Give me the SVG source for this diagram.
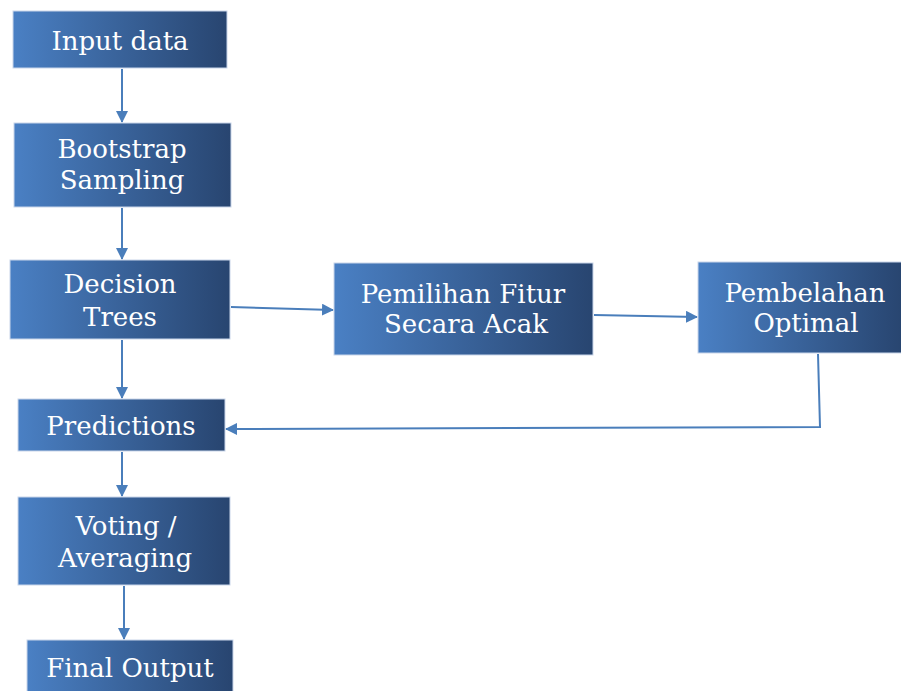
<svg xmlns="http://www.w3.org/2000/svg" width="901" height="691" viewBox="0 0 901 691">
<defs>
<linearGradient id="g" x1="0" y1="0" x2="1" y2="0">
<stop offset="0" stop-color="#4a80c4"/>
<stop offset="1" stop-color="#284570"/>
</linearGradient>
<marker id="ah" markerWidth="12" markerHeight="12" refX="11" refY="6" orient="auto" markerUnits="userSpaceOnUse">
<path d="M0,0 L12,6 L0,12 Z" fill="#4a7ebb"/>
</marker>
<style>
.box{fill:url(#g);stroke:#c9d6ea;stroke-width:1}
.t{font-family:"DejaVu Serif","Liberation Serif",serif;font-size:26px;fill:#fff;text-anchor:middle}
.c{fill:none;stroke:#4a7ebb;stroke-width:2}
</style>
</defs>
<rect width="901" height="691" fill="#fff"/>
<g id="connectors">
<line class="c" x1="122" y1="69" x2="122" y2="122" marker-end="url(#ah)"/>
<line class="c" x1="122" y1="208" x2="122" y2="259" marker-end="url(#ah)"/>
<line class="c" x1="122" y1="340" x2="122" y2="398" marker-end="url(#ah)"/>
<line class="c" x1="122" y1="452" x2="122" y2="496" marker-end="url(#ah)"/>
<line class="c" x1="124" y1="586" x2="124" y2="639" marker-end="url(#ah)"/>
<line class="c" x1="231" y1="307" x2="333" y2="310" marker-end="url(#ah)"/>
<line class="c" x1="594" y1="315" x2="697" y2="317" marker-end="url(#ah)"/>
<polyline class="c" points="818,354 820,427 226,429" marker-end="url(#ah)"/>
</g>
<g id="input"><rect class="box" x="13" y="11" width="214" height="57"/><text class="t" x="120" y="50">Input data</text></g>
<g id="bootstrap"><rect class="box" x="14" y="123" width="217" height="84"/><text class="t" x="122" y="158">Bootstrap</text><text class="t" x="122" y="189">Sampling</text></g>
<g id="decision"><rect class="box" x="10" y="260" width="220" height="79"/><text class="t" x="120" y="293">Decision</text><text class="t" x="120" y="326">Trees</text></g>
<g id="predictions"><rect class="box" x="18" y="399" width="207" height="52"/><text class="t" x="121" y="435">Predictions</text></g>
<g id="voting"><rect class="box" x="18" y="497" width="212" height="88"/><text class="t" x="126" y="535">Voting /</text><text class="t" x="125" y="567">Averaging</text></g>
<g id="final"><rect class="box" x="27" y="640" width="206" height="56"/><text class="t" x="130" y="677">Final Output</text></g>
<g id="pemilihan"><rect class="box" x="334" y="263" width="259" height="92"/><text class="t" x="463" y="303">Pemilihan Fitur</text><text class="t" x="466" y="333">Secara Acak</text></g>
<g id="pembelahan"><rect class="box" x="698" y="262" width="204" height="91"/><text class="t" x="805" y="302">Pembelahan</text><text class="t" x="806" y="332">Optimal</text></g>
</svg>
